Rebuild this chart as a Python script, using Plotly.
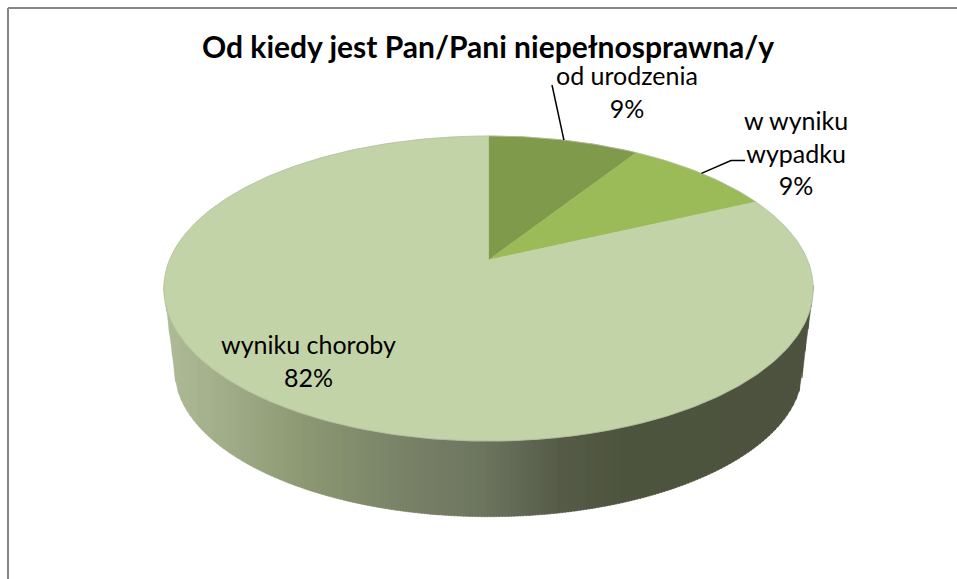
import numpy as np
import plotly.graph_objects as go

TITLE = "Od kiedy jest Pan/Pani niepełnosprawna/y"
categories = ["od urodzenia", "w wyniku<br>wypadku", "wyniku choroby"]
values = [9, 9, 82]
slice_colors = ["#7F9A4A", "#9BBB59", "#C3D3A8"]
label_pos = [(627, 91), (796, 152), (308, 360)]
side_stops_x = [163, 200, 300, 400, 480, 560, 620, 814]
side_stops_rgb = [(176, 188, 150), (168, 180, 143), (141, 154, 116), (122, 131, 104),
                  (110, 118, 96), (86, 92, 72), (79, 85, 63), (77, 83, 64)]

CX, CY, A, B, K = 488.5, 260.0, 147.2, 319.0, 0.187
DEPTH_CX, DEPTH_CY, DEPTH_RX, DEPTH_RY = 488.5, 369.7, 314.0, 147.0
TOP_CY, TOP_RX, TOP_RY = 288.5, 325.0, 152.5


def project(theta):
    x, y = np.sin(theta), np.cos(theta)
    d = 1 + K * y
    return CX + B * x / d, CY - A * y / d


fig = go.Figure()

# side wall as gradient strips
edges = np.arange(163, 815, 3.0)
for x0, x1 in zip(edges[:-1], edges[1:]):
    xs = np.array([x0, x1 + 0.6])
    xs = np.clip(xs, CX - TOP_RX + 0.01, CX + TOP_RX - 0.01)
    ytop = TOP_CY + TOP_RY * np.sqrt(1 - ((xs - CX) / TOP_RX) ** 2) - 4
    lo = []
    for x in xs:
        if abs(x - DEPTH_CX) < DEPTH_RX:
            lo.append(DEPTH_CY + DEPTH_RY * np.sqrt(1 - ((x - DEPTH_CX) / DEPTH_RX) ** 2))
        else:
            f = (abs(x - CX) - DEPTH_RX) / (TOP_RX - DEPTH_RX)
            lo.append(DEPTH_CY + (TOP_CY - DEPTH_CY) * f)
    xm = (x0 + x1) / 2
    rgb = [np.interp(xm, side_stops_x, [c[i] for c in side_stops_rgb]) for i in range(3)]
    col = "rgb(%d,%d,%d)" % tuple(rgb)
    fig.add_trace(go.Scatter(x=[xs[0], xs[1], xs[1], xs[0], xs[0]],
                             y=[ytop[0], ytop[1], lo[1], lo[0], ytop[0]],
                             mode="lines", fill="toself", fillcolor=col,
                             line=dict(color=col, width=0.5),
                             hoverinfo="skip", showlegend=False))

# top face slices
total = sum(values)
cum = 0
mids = []
for v, c in zip(values, slice_colors):
    t0 = 2 * np.pi * cum / total
    t1 = 2 * np.pi * (cum + v) / total
    mids.append((t0 + t1) / 2)
    th = np.linspace(t0, t1, max(8, int(v * 6)))
    px, py = project(th)
    fig.add_trace(go.Scatter(x=[CX, *px, CX], y=[CY, *py, CY], mode="lines",
                             fill="toself", fillcolor=c,
                             line=dict(color=c, width=0.6),
                             hoverinfo="skip", showlegend=False))
    cum += v

# rim
th = np.linspace(0, 2 * np.pi, 361)
px, py = project(th)
fig.add_trace(go.Scatter(x=px, y=py, mode="lines", line=dict(color="#B4BCA4", width=0.7),
                         hoverinfo="skip", showlegend=False))

# leader lines
mx, my = project(np.array(mids[:2]))
fig.add_trace(go.Scatter(x=[552, mx[0]], y=[85, my[0]], mode="lines",
                         line=dict(color="black", width=1.5), hoverinfo="skip", showlegend=False))
fig.add_trace(go.Scatter(x=[mx[1], 731, 745], y=[my[1], 160.5, 160.5], mode="lines",
                         line=dict(color="black", width=1.5), hoverinfo="skip", showlegend=False))

# labels
for cat, v, (lx, ly) in zip(categories, values, label_pos):
    fig.add_annotation(x=lx, y=ly, text=f"{cat}<br>{v}%", showarrow=False,
                       font=dict(family="Lato", size=25, color="black"), align="center")

fig.add_annotation(x=488, y=46, text=f"<b>{TITLE}</b>", showarrow=False,
                   font=dict(family="Lato", size=30, color="black"))

# frame
fig.add_shape(type="line", x0=8, x1=8, y0=8, y1=579, line=dict(color="#868686", width=2))
fig.add_shape(type="line", x0=8, x1=957, y0=8, y1=8, line=dict(color="#868686", width=2))

fig.update_layout(width=957, height=579, margin=dict(l=0, r=0, t=0, b=0),
                  paper_bgcolor="white", plot_bgcolor="white",
                  xaxis=dict(range=[0, 957], visible=False, fixedrange=True),
                  yaxis=dict(range=[579, 0], visible=False, fixedrange=True))

fig.write_html("out.html", config={"displayModeBar": False},
               post_script="document.body.style.margin='0';document.body.style.overflow='hidden';")
